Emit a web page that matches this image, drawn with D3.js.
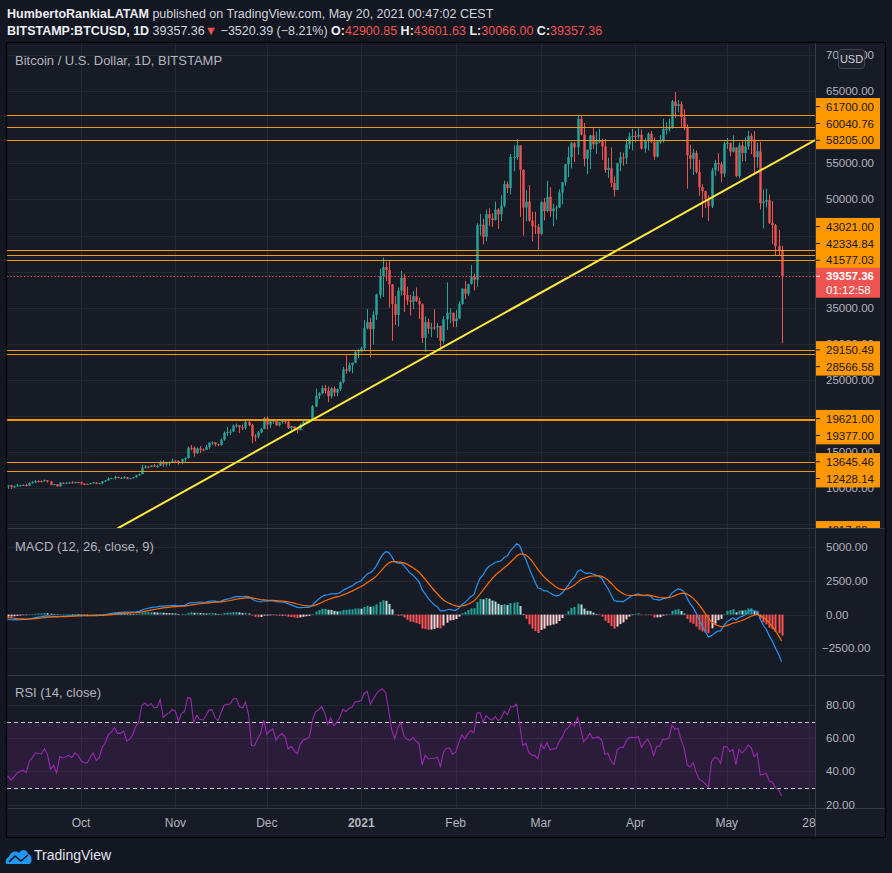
<!DOCTYPE html>
<html><head><meta charset="utf-8">
<script src="https://cdn.jsdelivr.net/npm/d3@7"></script>
<style>
html,body{margin:0;padding:0;background:#131722;}
svg{display:block;font-family:"Liberation Sans",Arial,sans-serif;}
</style></head><body>
<svg id="c" width="892" height="873"></svg>
<script>
// ---------- DATA ----------
// Closes before the first drawn candle (Aug 1 - Sep 5, 2020), used only to warm up the indicators
const warmupCloses = [11800,11070,11230,11190,11740,11770,11600,11760,11680,11880,11390,11570,11780,11770,11860,11900,12290,11970,11740,11860,11530,11680,11650,11760,11340,11470,11320,11540,11470,11700,11650,
  11920,11390,10170,10470,10170];
// Daily candles from 2020-09-06 to 2021-05-19 (open = previous close)
const candleStart = "2020-09-06";
const closes = [
  10250,10370,10130,10230,10350,10400,10440,10330,10680,10790,10960,10940,10930,11080,10920,10420,10530,10240,10740,10690,10730,10775,10700,10840,10780,
  10620,10570,10550,10670,10790,10600,10670,10920,11050,11300,11380,11540,11430,11430,11500,11320,11370,11500,11750,11920,12820,12980,12930,13120,13040,13070,13650,13280,13460,13560,13800,
  13760,13550,14030,14150,15590,15580,14830,15480,15330,15300,15700,16280,16330,16070,15960,16720,17650,17780,17820,18660,18690,18420,18370,19160,18720,17150,17140,17720,18180,19700,
  18790,19220,19440,18700,19150,19360,19170,18320,18550,18250,18030,18800,19170,19270,19440,21340,22800,23130,23860,23480,22740,23820,23240,23730,24690,26440,26250,27040,27360,28880,28950,
  29370,32130,33000,32020,34030,36830,39390,40620,40220,38240,35500,34000,37370,39150,36770,36020,35800,36600,35900,35480,30830,33000,32090,32260,32250,32470,30400,33400,34270,34300,33110,
  33520,35520,37630,36940,38290,39250,38880,46400,46500,44840,47970,47380,47150,48600,47930,49150,52140,51580,55900,55900,57490,54100,48880,49700,47100,46300,46160,45240,
  49620,48400,50370,48370,48760,48880,50970,52390,54880,55870,57800,57230,61190,59000,55630,56900,58900,57650,58030,58100,57350,54100,54340,52300,51300,55030,55840,55780,57630,58740,58800,
  58730,58970,57060,58200,59120,58010,55950,58080,58090,59770,59790,59990,63590,62960,63210,61400,60000,56150,55650,56470,53800,51700,51150,50100,49070,54030,55070,54880,53580,57750,
  57830,56630,57210,53240,57500,56430,57340,58830,58280,55860,56700,49500,49700,49900,46760,46450,43540,42900.85,39357.36];
const highs = [
  10340,10400,10440,10350,10590,10440,10480,10580,10800,10940,11100,11050,11040,11180,11090,10990,10570,10540,10790,10760,10790,10800,10960,10860,10850,
  10920,10660,10600,10680,10800,10800,10690,10960,11110,11480,11430,11720,11560,11550,11630,11540,11400,11530,11830,12000,13230,13180,13030,13160,13340,13240,13780,13850,13640,13670,14100,
  13900,13830,14070,14250,15760,15960,15770,15650,15840,15460,15960,16340,16480,16330,16150,16880,17860,18480,18170,18800,18950,18720,18770,19400,19480,18900,17470,17900,18350,19850,
  19920,19300,19580,19520,19180,19410,19420,19290,18640,18560,18280,18940,19410,19340,19570,21500,23800,23270,24200,24300,24100,24000,24100,23800,24780,26800,28400,27400,27400,28990,29300,
  29600,33300,34800,33600,34500,36940,40400,41950,41350,41400,38250,36600,37800,40100,39700,37900,36800,37300,37800,36400,35600,33800,33500,32900,34800,32900,32500,33800,38500,34900,34300,
  34700,35900,37700,38700,38300,40900,39700,46700,48000,47300,48600,48800,48100,49700,48800,50600,52600,52500,56300,57500,58350,57500,54200,51300,52000,48300,48300,46600,
  49800,50200,52600,51700,49400,49200,51400,52400,54900,57300,58000,58000,61700,61600,60600,56900,58900,60000,59400,59800,58400,58400,55800,57200,53200,55100,56600,56500,58400,59300,59800,
  59500,60000,59700,58500,59300,59500,58600,58200,58900,61200,60700,61200,63800,64900,63800,63600,62500,60400,57600,57000,56800,55500,52100,51200,50600,54400,55500,56400,55200,58000,
  58500,57900,58900,57200,57900,58300,58600,59500,59200,59500,57900,58000,51400,51500,50700,49800,46600,45800,43601.63];
const lows = [
  10000,9900,9880,10020,10200,10200,10270,10200,10250,10620,10680,10750,10820,10890,10760,10360,10360,10150,10200,10550,10650,10630,10650,10640,10670,
  10430,10370,10510,10520,10630,10530,10560,10530,10830,11050,11250,11200,11300,11280,11280,11220,11300,11350,11410,11680,11900,12700,12730,12890,12900,12800,13060,12920,12990,13120,13450,
  13630,13250,13300,13530,14100,15200,14350,14740,14860,15100,15280,15440,15960,15760,15800,15870,16550,17230,17340,17750,18370,17640,18030,18060,18570,16200,16450,16870,17550,18150,
  18100,18350,18910,18600,18530,18930,18900,18200,17650,17910,17570,18000,18720,19000,19050,19300,21200,22350,23000,23100,21900,22400,22700,22700,23450,24500,25850,26050,25900,27320,28000,
  28800,29000,32000,28100,29900,33300,36300,36500,38700,35000,30400,32600,32400,36700,34400,35400,33900,34800,35800,33400,30100,28850,31400,30900,31900,30800,29240,30000,31900,32800,32300,
  32300,33400,35400,36200,36600,38200,37400,37900,45000,43800,44200,46300,46200,47100,45900,47000,48900,50900,50700,53900,55500,47600,45000,47000,46900,44200,45200,43000,
  45000,47100,48200,47600,46300,47200,48900,49300,51900,53100,54300,55200,56200,58900,54600,53500,54200,57000,56300,57800,55500,53700,53000,51700,50400,51300,53900,54700,54900,57000,56800,
  57900,58400,56900,56500,56800,57800,55500,55800,57700,57900,59000,59400,59800,61300,62100,60000,59600,51500,54200,53400,53600,50500,47500,48800,47000,48800,53300,53900,52400,53100,
  57000,56000,56500,53100,52900,55300,55300,56900,56300,53400,54400,48600,46000,48900,46600,43800,42200,42300,30066];

const levels = [61700, 60040.76, 58205, 43021, 42334.84, 41577.03, 29150.49, 28566.58, 19621, 19377, 13645.46, 12428.14, 4217.60];
const trendline = [{date:"2020-10-13", price:4400}, {date:"2021-05-30", price:58245}];
const lastPrice = 39357.36;
const countdown = "01:12:58";
const priceTicks = [70000,65000,60000,55000,50000,45000,40000,35000,30000,25000,20000,15000,10000,5000];
const macdTicks = [5000, 2500, 0, -2500];
const rsiTicks = [80, 60, 40, 20];
const rsiBands = [70, 30];
const timeTicks = [["2020-10-01","Oct"],["2020-11-01","Nov"],["2020-12-01","Dec"],["2021-01-01","2021"],["2021-02-01","Feb"],["2021-03-01","Mar"],["2021-04-01","Apr"],["2021-05-01","May"],["2021-05-28","28"]];

// ---------- LAYOUT ----------
const W=892,H=873, L=7, R=815, FR=885, T=43, B=837, mainB=528, macdB=675, rsiB=808;
const UP="#26a69a", DN="#ef5350", ORANGE="#ff9800", GRID="#242834", TXT="#b2b5be";
const parse = d3.utcParse("%Y-%m-%d");
const x = d3.scaleUtc().domain([parse("2020-10-01"), parse("2021-05-28")]).range([81, 809]);
const y = d3.scaleLinear().domain([5000,70000]).range([524.1, 55.2]);
const ym = d3.scaleLinear().domain([0,5000]).range([614.6, 547.2]);
const yr = d3.scaleLinear().domain([20,80]).range([804.5, 705]);

const svg = d3.select("#c");
svg.append("rect").attr("width",W).attr("height",H).attr("fill","#131722");
svg.append("rect").attr("x",L).attr("y",T).attr("width",FR-L).attr("height",B-T).attr("fill","#171b26");

const defs = svg.append("defs");
function clip(id,y0,y1){defs.append("clipPath").attr("id",id).append("rect").attr("x",L).attr("y",y0).attr("width",R-L).attr("height",y1-y0);}
clip("cm",T,mainB); clip("cmacd",mainB,macdB); clip("crsi",macdB,rsiB);
defs.append("clipPath").attr("id","cax").append("rect").attr("x",R).attr("y",T).attr("width",FR-R).attr("height",mainB-T);

// ---------- build candles & indicators ----------
const start = parse(candleStart);
const candles = closes.map((c,i)=>{
  const o = i===0 ? warmupCloses[warmupCloses.length-1] : closes[i-1];
  return {date:d3.utcDay.offset(start,i), o, c, h:Math.max(highs[i],o,c), l:Math.min(lows[i],o,c)};
});
const all = warmupCloses.concat(closes);
function ema(src,n){const a=2/(n+1);let out=[],v;src.forEach((s,i)=>{v = i===0? s : a*s+(1-a)*v; out.push(v);});return out;}
const e12=ema(all,12), e26=ema(all,26);
const macd = all.map((v,i)=>e12[i]-e26[i]);
const sig = ema(macd,9);
const hist = macd.map((v,i)=>v-sig[i]);
// RSI (Wilder)
const rsi=[];{let ag=0,al=0;for(let i=0;i<all.length;i++){if(i===0){rsi.push(null);continue;}const ch=all[i]-all[i-1],g=Math.max(ch,0),lo=Math.max(-ch,0);
 if(i<=14){ag+=g/14;al+=lo/14;}else{ag=(ag*13+g)/14;al=(al*13+lo)/14;} rsi.push(i<14?null:(al===0?100:100-100/(1+ag/al)));}}
const off = warmupCloses.length;
const ind = candles.map((d,i)=>({date:d.date, macd:macd[i+off], sig:sig[i+off], hist:hist[i+off], prevHist:hist[i+off-1], rsi:rsi[i+off]}));

// ---------- grid ----------
const g = svg.append("g");
timeTicks.forEach(([d])=>{const xx=Math.round(x(parse(d)))+0.5;g.append("line").attr("x1",xx).attr("x2",xx).attr("y1",T).attr("y2",rsiB).attr("stroke",GRID);});
priceTicks.forEach(p=>{const yy=Math.round(y(p))+0.5; if(yy>T&&yy<mainB) g.append("line").attr("x1",L).attr("x2",R).attr("y1",yy).attr("y2",yy).attr("stroke",GRID);});
macdTicks.forEach(p=>{const yy=Math.round(ym(p))+0.5; g.append("line").attr("x1",L).attr("x2",R).attr("y1",yy).attr("y2",yy).attr("stroke",GRID);});
rsiTicks.forEach(p=>{const yy=Math.round(yr(p))+0.5; g.append("line").attr("x1",L).attr("x2",R).attr("y1",yy).attr("y2",yy).attr("stroke",GRID);});

// ---------- main pane ----------
const mp = svg.append("g").attr("clip-path","url(#cm)");
const cg = mp.append("g");
candles.forEach(d=>{
  const cx=Math.round(x(d.date)), col = d.c>=d.o?UP:DN;
  cg.append("line").attr("x1",cx+0.5).attr("x2",cx+0.5).attr("y1",y(d.h)).attr("y2",y(d.l)).attr("stroke",col).attr("stroke-width",1);
  const y0=y(Math.max(d.o,d.c)), y1=y(Math.min(d.o,d.c));
  cg.append("rect").attr("x",cx-0.7).attr("width",2.4).attr("y",y0).attr("height",Math.max(1,y1-y0)).attr("fill",col);
});
levels.forEach(p=>{const yy=Math.round(y(p))+0.5; mp.append("line").attr("x1",L).attr("x2",R).attr("y1",yy).attr("y2",yy).attr("stroke",ORANGE).attr("stroke-width",1.2);});
mp.append("line").attr("x1",x(parse(trendline[0].date))).attr("y1",y(trendline[0].price))
  .attr("x2",x(parse(trendline[1].date))).attr("y2",y(trendline[1].price)).attr("stroke","#ffeb3b").attr("stroke-width",2);
{const yy=Math.round(y(lastPrice))+0.5; mp.append("line").attr("x1",L).attr("x2",R).attr("y1",yy).attr("y2",yy).attr("stroke",DN).attr("stroke-dasharray","1.2 2.2");}
svg.append("text").attr("x",15).attr("y",65).attr("fill",TXT).attr("font-size",13).text("Bitcoin / U.S. Dollar, 1D, BITSTAMP");

// ---------- MACD pane ----------
const mg = svg.append("g").attr("clip-path","url(#cmacd)");
ind.forEach(d=>{
  const h=d.hist, up = d.prevHist < h;
  const col = h>=0 ? (up?"#26a69a":"#b2dfdb") : (up?"#ffcdd2":"#ff5252");
  const y0=ym(Math.max(0,h)), y1=ym(Math.min(0,h));
  mg.append("rect").attr("x",Math.round(x(d.date))-0.5).attr("width",2).attr("y",y0).attr("height",Math.max(0.5,y1-y0)).attr("fill",col);
});
mg.append("path").datum(ind).attr("fill","none").attr("stroke","#2196f3").attr("stroke-width",1.2)
  .attr("d",d3.line().x(d=>x(d.date)).y(d=>ym(d.macd)));
mg.append("path").datum(ind).attr("fill","none").attr("stroke","#ff6d00").attr("stroke-width",1.2)
  .attr("d",d3.line().x(d=>x(d.date)).y(d=>ym(d.sig)));
svg.append("text").attr("x",15).attr("y",551).attr("fill",TXT).attr("font-size",13).text("MACD (12, 26, close, 9)");

// ---------- RSI pane ----------
const rg = svg.append("g").attr("clip-path","url(#crsi)");
rg.append("rect").attr("x",L).attr("width",R-L).attr("y",yr(rsiBands[0])).attr("height",yr(rsiBands[1])-yr(rsiBands[0])).attr("fill","#9b27b0").attr("opacity",0.14);
rsiBands.forEach(v=>{const yy=Math.round(yr(v))+0.5; rg.append("line").attr("x1",L).attr("x2",R).attr("y1",yy).attr("y2",yy).attr("stroke","#c8cad1").attr("stroke-dasharray","4 3");});
rg.append("path").datum(ind.filter(d=>d.rsi!=null)).attr("fill","none").attr("stroke","#9c27b0").attr("stroke-width",1.1)
  .attr("d",d3.line().x(d=>x(d.date)).y(d=>yr(d.rsi)));
svg.append("text").attr("x",15).attr("y",697).attr("fill",TXT).attr("font-size",13).text("RSI (14, close)");

// ---------- separators & frame ----------
const SEP="#363a45";
[mainB,macdB,rsiB].forEach(v=>svg.append("line").attr("x1",L).attr("x2",FR).attr("y1",v+0.5).attr("y2",v+0.5).attr("stroke",SEP));
svg.append("line").attr("x1",R+0.5).attr("x2",R+0.5).attr("y1",T).attr("y2",B).attr("stroke",SEP);

// ---------- right axes ----------
const f2 = d3.format(".2f");
const minus = s=>s.replace("-","\u2212");
const ax = svg.append("g").attr("clip-path","url(#cax)");

// level labels: stack away from last price label
const lpY = y(lastPrice);
const above = levels.filter(p=>p>lastPrice).sort((a,b)=>a-b);
const below = levels.filter(p=>p<lastPrice).sort((a,b)=>b-a);
const labs=[]; const SP=16.8;
let prev = Infinity;
above.forEach(p=>{let yy=y(p); if(yy>prev-SP) yy=prev-SP; labs.push({p,yy}); prev=yy;});
prev = -Infinity;
below.forEach(p=>{let yy=y(p); if(yy<prev+SP) yy=prev+SP; labs.push({p,yy}); prev=yy;});
const boxes = labs.map(d=>[d.yy-8.7,d.yy+8.9]).concat([[lpY-8.5,lpY+21.5]]);
// tick labels that would be (almost) completely hidden behind a box are not drawn
priceTicks.forEach(p=>{
  const yy=y(p); const hidden = boxes.some(([a,b])=>yy-3>=a && yy+3<=b);
  if(!hidden) ax.append("text").attr("x",826).attr("y",yy+4).attr("fill",TXT).attr("font-size",11.5).text(f2(p));
});
macdTicks.forEach(p=>svg.append("text").attr("x",p<0?822:826).attr("y",ym(p)+4).attr("fill",TXT).attr("font-size",11.5).text(minus(f2(p))));
rsiTicks.forEach(p=>svg.append("text").attr("x",826).attr("y",yr(p)+4).attr("fill",TXT).attr("font-size",11.5).text(f2(p)));

labs.forEach(d=>{
  ax.append("rect").attr("x",R+1).attr("y",d.yy-8.7).attr("width",64).attr("height",17.6).attr("fill",ORANGE);
});
labs.forEach(d=>{
  ax.append("line").attr("x1",R+1).attr("x2",R+5).attr("y1",d.yy).attr("y2",d.yy).attr("stroke","#131722");
  ax.append("text").attr("x",826).attr("y",d.yy+4.2).attr("fill","#131722").attr("font-size",11.5).text(f2(d.p));
});
// last price label
ax.append("rect").attr("x",R+1).attr("y",lpY-8.5).attr("width",64).attr("height",30).attr("fill",DN);
ax.append("line").attr("x1",R+1).attr("x2",R+5).attr("y1",lpY).attr("y2",lpY).attr("stroke","#fff");
ax.append("text").attr("x",826).attr("y",lpY+4.2).attr("fill","#fff").attr("font-size",11.5).attr("font-weight","bold").text(f2(lastPrice));
ax.append("text").attr("x",826).attr("y",lpY+18).attr("fill","#fff").attr("font-size",11.5).text(countdown);
// USD button
svg.append("rect").attr("x",838.5).attr("y",49.5).attr("width",26).attr("height",19).attr("rx",3).attr("fill","#1e222d").attr("stroke","#434651");
svg.append("text").attr("x",851.5).attr("y",63).attr("text-anchor","middle").attr("fill","#d1d4dc").attr("font-size",11).text("USD");

// ---------- time axis ----------
timeTicks.forEach(([d,lab])=>svg.append("text").attr("x",x(parse(d))).attr("y",827).attr("text-anchor","middle").attr("fill",TXT).attr("font-size",12)
  .attr("font-weight",lab==="2021"?"bold":null).text(lab));

// frame
svg.append("rect").attr("x",L-0.5).attr("y",T-0.5).attr("width",FR-L+1).attr("height",B-T+1).attr("fill","none").attr("stroke","#000").attr("stroke-width",1.2);

// ---------- header ----------
const h1 = svg.append("text").attr("x",7).attr("y",18).attr("font-size",12.5).attr("fill","#d1d4dc");
h1.append("tspan").attr("font-weight","bold").attr("fill","#eceef3").text("HumbertoRankiaLATAM");
h1.append("tspan").text(" published on TradingView.com, May 20, 2021 00:47:02 CEST");
const h2 = svg.append("text").attr("x",7).attr("y",34.5).attr("font-size",12.5).attr("fill","#d1d4dc");
h2.append("tspan").attr("font-weight","bold").attr("fill","#eceef3").text("BITSTAMP:BTCUSD, 1D");
h2.append("tspan").text(" 39357.36");
h2.append("tspan").attr("fill",DN).text("\u25BC");
h2.append("tspan").text(" \u22123520.39 (\u22128.21%) ");
[["O:","42900.85"],["H:","43601.63"],["L:","30066.00"],["C:","39357.36"]].forEach(([k,v],i)=>{
  h2.append("tspan").attr("font-weight","bold").attr("fill","#eceef3").text((i?" ":"")+k);
  h2.append("tspan").attr("fill",DN).text(v);
});

// ---------- logo ----------
const lg = svg.append("g");
lg.append("path").attr("d","M7,864 C5,864 5,858 9,857 C10,852 16,850 19,853 C21,849 27,849 28,854 C32,854 33,864 29,864 Z").attr("fill","#2196f3");
lg.append("polyline").attr("points","9,862 15,856 21,861 28,855").attr("fill","none").attr("stroke","#131722").attr("stroke-width",1.6);
svg.append("text").attr("x",34).attr("y",860).attr("fill","#e0e3eb").attr("font-size",14).text("TradingView");
</script></body></html>
